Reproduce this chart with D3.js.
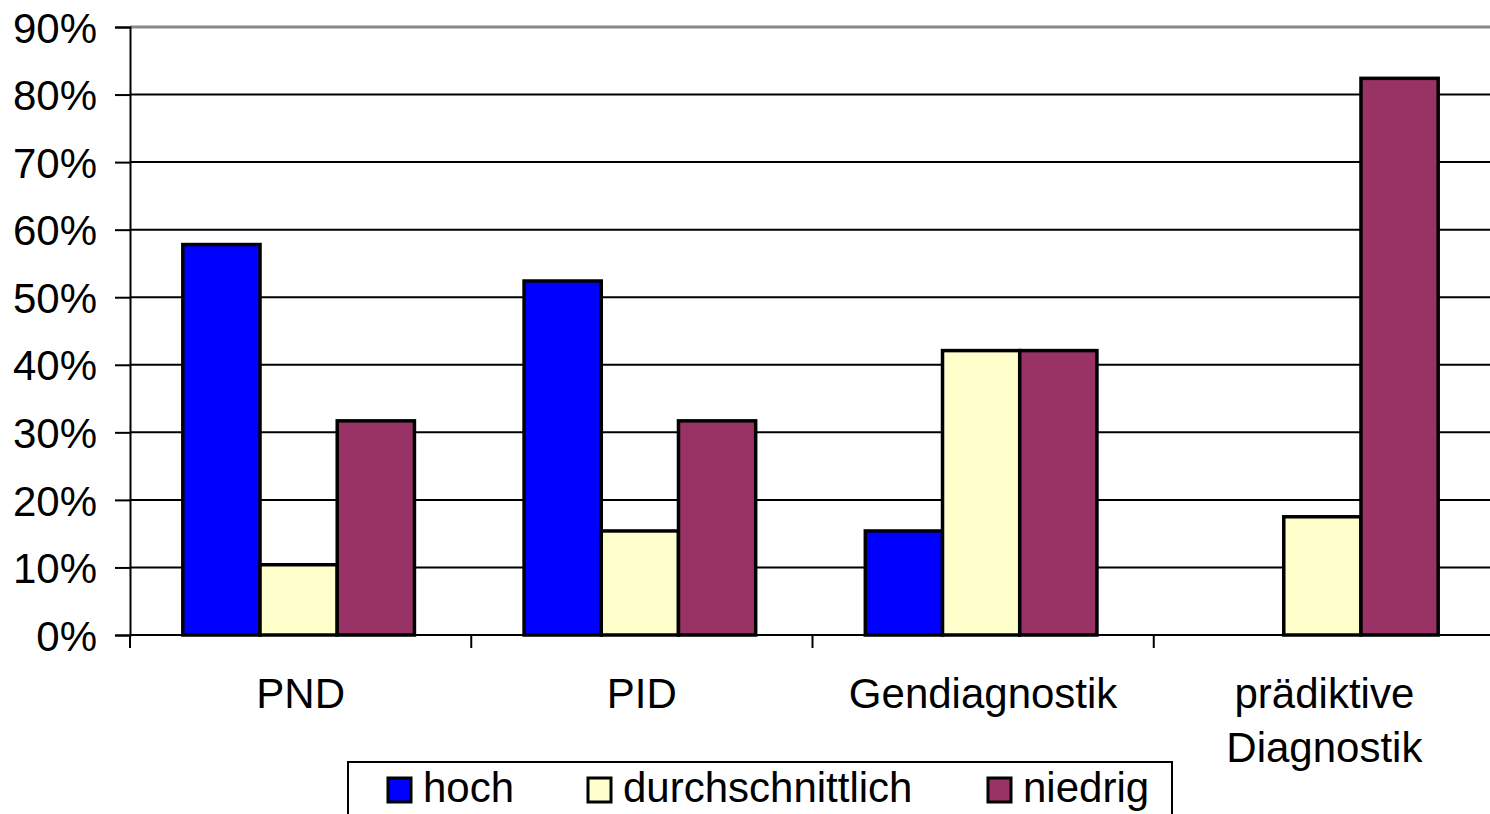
<!DOCTYPE html>
<meta charset="utf-8">
<html>
<script src="https://d3js.org/d3.v7.min.js"></script>
<style>
    body { margin: 0; background: #fff; }
    svg text { font-family: "Liberation Sans", Arial, sans-serif; fill: #000; }
</style>
<body>
<div id="chart"></div>
<script>
    // data
    var categories = ["PND", "PID", "Gendiagnostik", "prädiktive Diagnostik"];
    var series = ["hoch", "durchschnittlich", "niedrig"];
    var colors = ["#0000ff", "#ffffcc", "#993366"];
    var hoch = [0.578, 0.524, 0.154, 0];
    var durchschnittlich = [0.104, 0.154, 0.421, 0.175];
    var niedrig = [0.317, 0.317, 0.421, 0.824];
    var yTicks = [0, 0.1, 0.2, 0.3, 0.4, 0.5, 0.6, 0.7, 0.8, 0.9];

    var values = [hoch, durchschnittlich, niedrig];
    var fs = 42;

    var svg = d3.select("#chart").append("svg")
        .attr("width", 1490)
        .attr("height", 814);

    var x0 = d3.scaleBand().domain(categories).range([130, 1495]).padding(0);
    var x1 = d3.scaleBand().domain(series).range([-2, x0.bandwidth() - 2])
        .paddingInner(0).paddingOuter(0.71);
    var y = d3.scaleLinear().domain([0, 0.9]).range([635, 27]);

    // gridlines
    svg.append("g").selectAll("line")
        .data(yTicks.slice(1))
        .enter().append("line")
        .attr("x1", 130).attr("x2", 1490)
        .attr("y1", function (d) { return y(d); })
        .attr("y2", function (d) { return y(d); })
        .attr("stroke", function (d) { return d === 0.9 ? "#888" : "#000"; })
        .attr("stroke-width", function (d) { return d === 0.9 ? 3 : 2; });

    // y axis
    var yAxis = svg.append("g")
        .attr("transform", "translate(130,0)")
        .call(d3.axisLeft(y).tickValues(yTicks).tickFormat(d3.format(".0%")).tickSize(15).tickPadding(18));
    yAxis.select(".domain").attr("stroke", "#000").attr("stroke-width", 2);
    yAxis.selectAll(".tick line").attr("stroke", "#000").attr("stroke-width", 2);
    yAxis.selectAll("text").attr("font-size", fs).attr("dy", "0.36em")
        .style("font-family", "'Liberation Sans', Arial, sans-serif");

    // bars
    var groups = svg.append("g").selectAll("g")
        .data(categories)
        .enter().append("g")
        .attr("transform", function (d) { return "translate(" + x0(d) + ",0)"; });

    groups.selectAll("rect")
        .data(function (c, ci) {
            return series.map(function (s, si) { return { s: s, i: si, v: values[si][ci] }; })
                .filter(function (d) { return d.v > 0; });
        })
        .enter().append("rect")
        .attr("x", function (d) { return x1(d.s); })
        .attr("y", function (d) { return y(d.v); })
        .attr("width", x1.bandwidth())
        .attr("height", function (d) { return y(0) - y(d.v); })
        .attr("fill", function (d) { return colors[d.i]; })
        .attr("stroke", "#000")
        .attr("stroke-width", 3.5);

    // x axis
    var xAxis = svg.append("g").attr("transform", "translate(0,635)");
    xAxis.append("line").attr("x1", 130).attr("x2", 1490)
        .attr("stroke", "#000").attr("stroke-width", 2);
    xAxis.selectAll(".tk")
        .data(categories)
        .enter().append("line")
        .attr("class", "tk")
        .attr("x1", function (d) { return x0(d); })
        .attr("x2", function (d) { return x0(d); })
        .attr("y1", 0).attr("y2", 13)
        .attr("stroke", "#000").attr("stroke-width", 2);

    xAxis.selectAll(".lbl")
        .data(categories)
        .enter().append("text")
        .attr("class", "lbl")
        .attr("text-anchor", "middle")
        .attr("font-size", fs)
        .attr("x", function (d) { return x0(d) + x0.bandwidth() / 2; })
        .attr("y", 73)
        .each(function (d) {
            var words = d === "prädiktive Diagnostik" ? d.split(" ") : [d];
            var t = d3.select(this);
            words.forEach(function (w, i) {
                t.append("tspan")
                    .attr("x", x0(d) + x0.bandwidth() / 2)
                    .attr("dy", i === 0 ? 0 : 54)
                    .text(w);
            });
        });

    // legend
    var legend = svg.append("g");
    legend.append("rect")
        .attr("x", 348).attr("y", 762)
        .attr("width", 824).attr("height", 70)
        .attr("fill", "#fff").attr("stroke", "#000").attr("stroke-width", 2);
    var legX = [388, 588, 988];
    series.forEach(function (s, i) {
        legend.append("rect")
            .attr("x", legX[i]).attr("y", 778)
            .attr("width", 23).attr("height", 24)
            .attr("fill", colors[i]).attr("stroke", "#000").attr("stroke-width", 3);
        legend.append("text")
            .attr("x", legX[i] + 35).attr("y", 802)
            .attr("font-size", fs)
            .text(s);
    });
</script>
</body>
</html>
